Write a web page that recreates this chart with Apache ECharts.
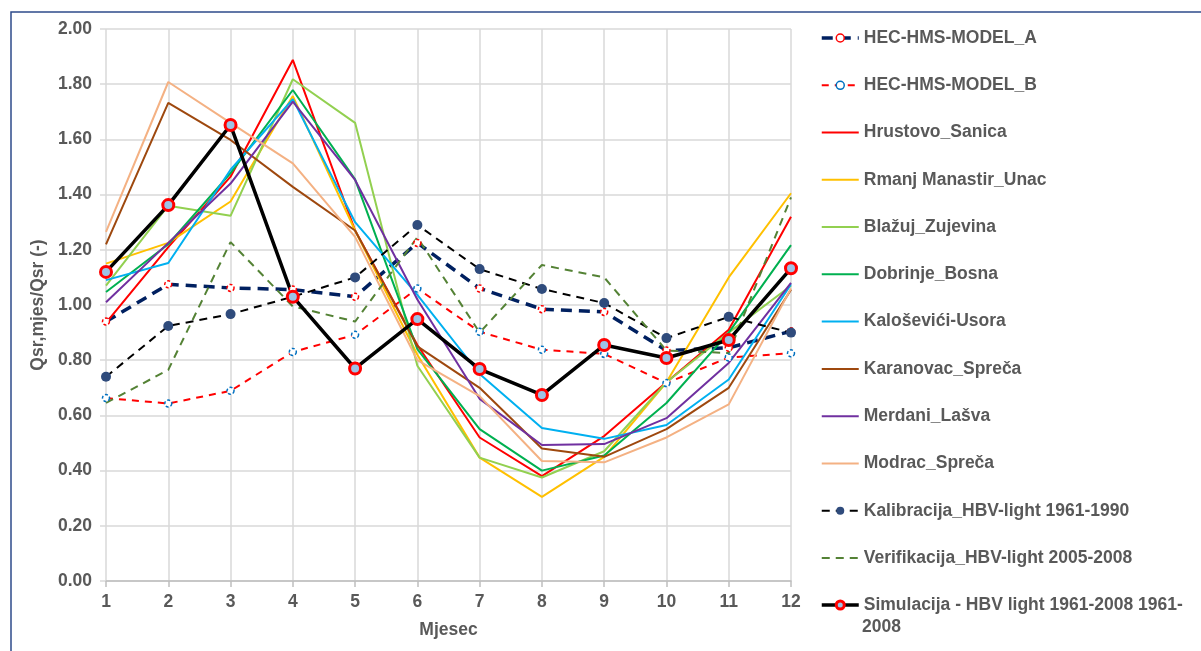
<!DOCTYPE html>
<html>
<head>
<meta charset="utf-8">
<script src="https://cdn.jsdelivr.net/npm/echarts@6/dist/echarts.min.js"></script>
<style>
html,body{margin:0;padding:0;background:#fff;}
#chart{width:1201px;height:651px;}
</style>
</head>
<body>
<div id="chart"></div>
<script>
const months = ['1','2','3','4','5','6','7','8','9','10','11','12'];
const yTicks = [0,0.2,0.4,0.6,0.8,1.0,1.2,1.4,1.6,1.8,2.0];

const nameModelA = 'HEC-HMS-MODEL_A';
const nameModelB = 'HEC-HMS-MODEL_B';
const nameHrustovo = 'Hrustovo_Sanica';
const nameRmanj = 'Rmanj Manastir_Unac';
const nameBlazuj = 'Blažuj_Zujevina';
const nameDobrinje = 'Dobrinje_Bosna';
const nameKalosevici = 'Kaloševići-Usora';
const nameKaranovac = 'Karanovac_Spreča';
const nameMerdani = 'Merdani_Lašva';
const nameModrac = 'Modrac_Spreča';
const nameKalib = 'Kalibracija_HBV-light 1961-1990';
const nameVerif = 'Verifikacija_HBV-light 2005-2008';
const nameSim = 'Simulacija - HBV light 1961-2008 1961-2008';
const simLegendLine1 = 'Simulacija - HBV light 1961-2008 1961-';
const simLegendLine2 = '2008';

const modelA     = [0.94, 1.075, 1.062, 1.056, 1.03, 1.225, 1.06, 0.985, 0.975, 0.835, 0.845, 0.905];
const modelB     = [0.663, 0.643, 0.689, 0.83, 0.892, 1.06, 0.903, 0.838, 0.823, 0.717, 0.81, 0.825];
const hrustovo   = [0.935, 1.21, 1.465, 1.888, 1.27, 0.855, 0.52, 0.38, 0.525, 0.72, 0.91, 1.32];
const rmanj      = [1.15, 1.225, 1.375, 1.757, 1.27, 0.82, 0.447, 0.305, 0.45, 0.72, 1.10, 1.405];
const blazuj     = [1.07, 1.36, 1.323, 1.818, 1.66, 0.78, 0.447, 0.375, 0.47, 0.72, 0.90, 1.07];
const dobrinje   = [1.047, 1.22, 1.478, 1.779, 1.455, 0.84, 0.55, 0.40, 0.455, 0.645, 0.90, 1.217];
const kalosevici = [1.09, 1.152, 1.49, 1.746, 1.30, 1.037, 0.75, 0.554, 0.515, 0.565, 0.73, 1.075];
const karanovac  = [1.22, 1.732, 1.598, 1.428, 1.27, 0.85, 0.70, 0.48, 0.45, 0.55, 0.70, 1.055];
const merdani    = [1.01, 1.225, 1.44, 1.737, 1.453, 1.02, 0.66, 0.493, 0.496, 0.59, 0.79, 1.08];
const modrac     = [1.265, 1.808, 1.66, 1.513, 1.247, 0.80, 0.67, 0.435, 0.43, 0.52, 0.64, 1.06];
const kalib      = [0.74, 0.924, 0.967, 1.03, 1.10, 1.29, 1.13, 1.058, 1.007, 0.88, 0.957, 0.90];
const verif      = [0.645, 0.765, 1.228, 0.995, 0.94, 1.245, 0.90, 1.145, 1.10, 0.835, 0.826, 1.39];
const sim        = [1.12, 1.362, 1.652, 1.03, 0.77, 0.949, 0.768, 0.674, 0.855, 0.808, 0.873, 1.133];

const FONT = '"Liberation Sans", Arial, sans-serif';
const GRAY = '#595959';
const FS = 17.5;

function solid(name, data, color) {
  return {name, type:'line', data, symbol:'none', smooth:false,
    lineStyle:{color, width:2}, itemStyle:{color}};
}

const series = [
  {name:nameModelA, type:'line', data:modelA, symbol:'circle', symbolSize:7,
    lineStyle:{color:'#002060', width:3.5, type:[11,7]},
    itemStyle:{color:'#ffffff', borderColor:'#FF0000', borderWidth:1.5, borderType:[3,2]}},
  {name:nameModelB, type:'line', data:modelB, symbol:'circle', symbolSize:7,
    lineStyle:{color:'#FF0000', width:2, type:[7,6]},
    itemStyle:{color:'#ffffff', borderColor:'#0070C0', borderWidth:1.5, borderType:[3,2]}},
  solid(nameHrustovo, hrustovo, '#FF0000'),
  solid(nameRmanj, rmanj, '#FFC000'),
  solid(nameBlazuj, blazuj, '#92D050'),
  solid(nameDobrinje, dobrinje, '#00B050'),
  solid(nameKalosevici, kalosevici, '#00B0F0'),
  solid(nameKaranovac, karanovac, '#9E480E'),
  solid(nameMerdani, merdani, '#7030A0'),
  solid(nameModrac, modrac, '#F4B183'),
  {name:nameKalib, type:'line', data:kalib, symbol:'circle', symbolSize:10,
    lineStyle:{color:'#000000', width:2, type:[8,6]},
    itemStyle:{color:'#2F4B7C', borderColor:'#2F4B7C', borderWidth:0}},
  {name:nameVerif, type:'line', data:verif, symbol:'none',
    lineStyle:{color:'#548235', width:2, type:[8,6]}, itemStyle:{color:'#548235'}},
  {name:nameSim, type:'line', data:sim, symbol:'circle', symbolSize:11,
    lineStyle:{color:'#000000', width:3.5},
    itemStyle:{color:'#9DC3E6', borderColor:'#FF0000', borderWidth:3}}
];

const noMarker = new Set(series.filter(s => s.symbol === 'none').map(s => s.name));
const legendItem = n => noMarker.has(n) ? {name:n, itemStyle:{opacity:0}} : {name:n};
const legendText = {fontFamily:FONT, fontWeight:'bold', fontSize:FS, color:GRAY, lineHeight:20};
const firstNames = series.slice(0, 12).map(s => s.name);

const chart = echarts.init(document.getElementById('chart'), null, {renderer:'canvas'});
chart.setOption({
  backgroundColor:'#ffffff',
  animation:false,
  textStyle:{fontFamily:FONT},
  graphic:[
    {type:'rect', shape:{x:11, y:12, width:1260, height:700},
      style:{fill:'none', stroke:'#2E4B8B', lineWidth:1.5}, silent:true, z:-1},
    {type:'text', left:862, top:618, silent:true,
      style:{text:simLegendLine2, fill:GRAY, font:'bold ' + FS + 'px ' + FONT}}
  ],
  grid:{left:106, top:29, width:685, height:552, containLabel:false},
  legend:[
    {orient:'vertical', left:820, top:28, height:600, padding:0,
      itemWidth:37, itemHeight:10, itemGap:27.27,
      lineStyle:{width:'inherit'}, itemStyle:{borderWidth:'inherit'},
      data:firstNames.map(legendItem), textStyle:legendText},
    {orient:'vertical', left:820, top:595, height:40, padding:0,
      itemWidth:37, itemHeight:10, itemGap:10,
      lineStyle:{width:'inherit'}, itemStyle:{borderWidth:'inherit'},
      data:[legendItem(nameSim)],
      formatter: () => simLegendLine1, textStyle:legendText}
  ],
  xAxis:{
    type:'category', data:months, boundaryGap:false,
    name:'Mjesec', nameLocation:'middle', nameGap:40,
    nameTextStyle:{fontFamily:FONT, fontWeight:'bold', fontSize:FS, color:GRAY},
    axisLine:{show:true, lineStyle:{color:'#BFBFBF', width:1.5}},
    axisTick:{show:true, length:6, alignWithLabel:true, lineStyle:{color:'#BFBFBF', width:1.5}},
    axisLabel:{fontFamily:FONT, fontWeight:'bold', fontSize:FS, color:GRAY, margin:12},
    splitLine:{show:true, lineStyle:{color:'#D9D9D9', width:1.5}}
  },
  yAxis:{
    type:'value', min:yTicks[0], max:yTicks[yTicks.length-1], interval:0.2,
    name:'Qsr,mjes/Qsr (-)', nameLocation:'middle', nameGap:50, nameRotate:90,
    nameTextStyle:{fontFamily:FONT, fontWeight:'bold', fontSize:FS, color:GRAY},
    axisLine:{show:false},
    axisTick:{show:true, length:6, lineStyle:{color:'#D9D9D9', width:1.5}},
    axisLabel:{fontFamily:FONT, fontWeight:'bold', fontSize:FS, color:GRAY, margin:14,
      formatter: v => v.toFixed(2)},
    splitLine:{show:true, lineStyle:{color:'#D9D9D9', width:1.5}}
  },
  series
});
</script>
</body>
</html>
